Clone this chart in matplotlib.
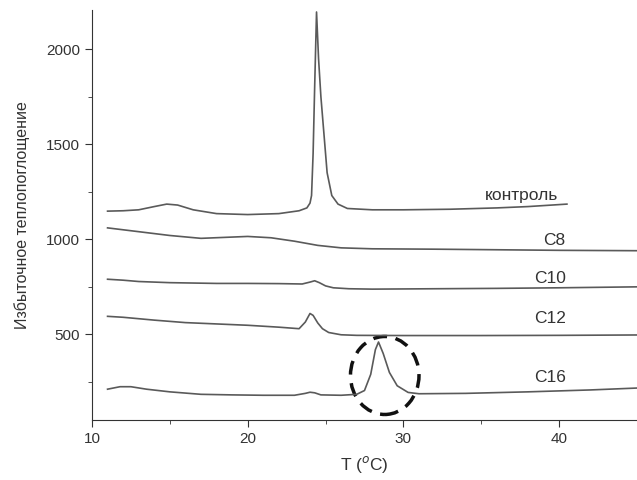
import matplotlib.pyplot as plt
from matplotlib.patches import Ellipse

plt.rcParams['font.family'] = ['Liberation Sans', 'DejaVu Sans']

# ---- данные ----
control_t = [11.0, 12, 13, 14, 14.8, 15.5, 16.5, 18, 20, 22, 23.3, 23.8, 24.0, 24.1, 24.2, 24.3,
             24.42, 24.55, 24.7, 24.9, 25.1, 25.4, 25.8, 26.4, 28, 30, 33, 36, 38, 40.5]
control_y = [1148, 1150, 1155, 1172, 1185, 1180, 1155, 1135, 1130, 1135, 1150, 1165, 1190, 1230, 1450, 1800,
             2195, 1950, 1750, 1550, 1350, 1230, 1185, 1162, 1155, 1155, 1158, 1165, 1172, 1185]

c8_t = [11, 13, 15, 17, 18.5, 20, 21.5, 23, 24.5, 26, 28, 32, 36, 40, 45]
c8_y = [1060, 1040, 1020, 1005, 1010, 1015, 1008, 990, 968, 955, 950, 948, 945, 942, 940]

c10_t = [11, 12, 13, 15, 18, 20, 22, 23.5, 24.0, 24.3, 24.6, 25, 25.5, 26.5, 28, 32, 36, 40, 45]
c10_y = [790, 785, 778, 772, 768, 768, 767, 765, 775, 782, 772, 755, 745, 740, 738, 740, 742, 745, 750]

c12_t = [11, 12, 14, 16, 18, 20, 22, 23.3, 23.7, 24.0, 24.2, 24.5, 24.8, 25.2, 26, 27, 30, 35, 40, 45]
c12_y = [595, 590, 575, 562, 555, 548, 538, 530, 565, 610, 600, 560, 530, 510, 498, 495, 494, 494, 495, 497]

c16_t = [11, 11.8, 12.5, 13.5, 15, 17, 19, 21, 23, 23.7, 24.0, 24.3, 24.7, 26, 27, 27.5, 27.9, 28.2,
         28.4, 28.7, 29.1, 29.6, 30.3, 31, 34, 38, 42, 45]
c16_y = [212, 225, 225, 212, 198, 185, 182, 180, 180, 190, 196, 193, 182, 180, 185, 205, 290, 420,
         460, 400, 300, 230, 195, 188, 190, 198, 208, 218]

labels = ["контроль", "C8", "C10", "C12", "C16"]
label_pos = [(37.6, 1232), (39.7, 995), (39.4, 795), (39.4, 584), (39.4, 274)]

# ---- график ----
fig = plt.figure(figsize=(6.37, 4.8), dpi=100)
ax = fig.add_axes([0.1444, 0.125, 0.8556, 0.854])

line_col = "#5a5a5a"
for t, y in [(control_t, control_y), (c8_t, c8_y), (c10_t, c10_y), (c12_t, c12_y), (c16_t, c16_y)]:
    ax.plot(t, y, color=line_col, lw=1.2)

for lab, (x, y) in zip(labels, label_pos):
    ax.text(x, y, lab, ha="center", va="center", fontsize=12.5, color="#333333")

# пунктирный круг вокруг пика C16
ax.add_patch(Ellipse((28.8, 284), 4.4, 410, fill=False, ec="#111111", lw=2.5,
                     ls=(0, (4, 2.5))))

ax.set_xlim(10, 45)
ax.set_ylim(50, 2205)
ax.set_xticks([10, 20, 30, 40])
ax.set_xticks([15, 25, 35], minor=True)
ax.set_yticks([500, 1000, 1500, 2000])
ax.set_yticks([250, 750, 1250, 1750], minor=True)
ax.tick_params(which="both", direction="out", colors="#333333", labelsize=11)
ax.tick_params(which="major", length=5)
ax.tick_params(which="minor", length=3)

for s in ["top", "right"]:
    ax.spines[s].set_visible(False)
for s in ["left", "bottom"]:
    ax.spines[s].set_color("#333333")

ax.set_xlabel("T ($^{o}$C)", fontsize=12.5, color="#333333", labelpad=6)
ax.set_ylabel("Избыточное теплопоглощение", fontsize=11.5, color="#333333", labelpad=12)

plt.savefig("out.png", dpi=100)
plt.close()
